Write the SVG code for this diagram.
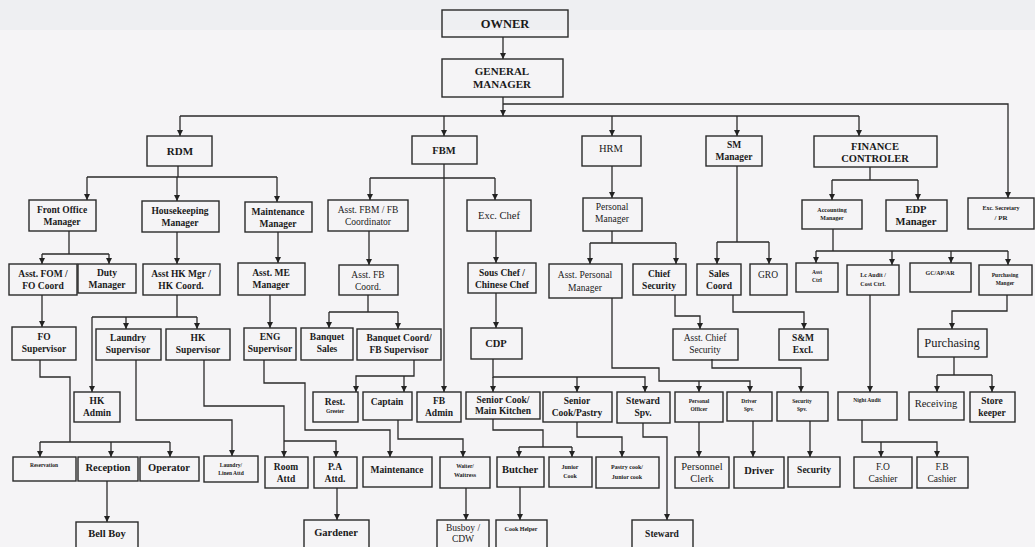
<svg xmlns="http://www.w3.org/2000/svg" width="1035" height="547" viewBox="0 0 1035 547">
<defs>
<marker id="ah" viewBox="0 0 8 8" refX="8" refY="4" markerWidth="6" markerHeight="6" orient="auto" markerUnits="userSpaceOnUse">
<path d="M0,0 L8,4 L0,8 z" fill="#222"/>
</marker>
<style>
.bx{fill:none;stroke:#2a2a2a;stroke-width:1.4}
text{font-family:"Liberation Serif","Times New Roman",serif;fill:#1a1a1a;text-anchor:middle}
.b{font-weight:bold}
.s9{font-size:9.5px}
.s10{font-size:10.5px}
.s11{font-size:11px}
.s12{font-size:12.5px}
.s6{font-size:6px}
.s5{font-size:5.5px}
.s7{font-size:7px}
.ln{fill:none;stroke:#2a2a2a;stroke-width:1.3}
.ar{fill:none;stroke:#2a2a2a;stroke-width:1.3;marker-end:url(#ah)}
</style>
</defs>
<rect width="1035" height="547" fill="#f5f4f6"/>
<rect width="1035" height="30" fill="#eeeff2"/>

<g id="connectors">
<path class="ar" d="M503,37 V59"/>
<path class="ar" d="M503,97 V116"/>
<path class="ln" d="M180,116 H859"/>
<path class="ar" d="M180,116 V136"/>
<path class="ar" d="M444,116 V136"/>
<path class="ar" d="M612,116 V136"/>
<path class="ar" d="M737,116 V136"/>
<path class="ar" d="M859,116 V136"/>
<path class="ar" d="M503,104 H1008 V198"/>
<path class="ln" d="M178,166 V177 M87,177 H277"/>
<path class="ar" d="M87,177 V200"/>
<path class="ar" d="M177,177 V201"/>
<path class="ar" d="M277,177 V202"/>
<path class="ar" d="M444,164 V392"/>
<path class="ln" d="M370,178 H495"/>
<path class="ar" d="M370,178 V200"/>
<path class="ar" d="M495,178 V200"/>
<path class="ar" d="M612,166 V198"/>
<path class="ln" d="M737,166 V242 M717,242 H769"/>
<path class="ar" d="M717,242 V264"/>
<path class="ar" d="M769,242 V264"/>
<path class="ln" d="M870,167 V180 M832,180 H918"/>
<path class="ar" d="M832,180 V200"/>
<path class="ar" d="M918,180 V200"/>
<path class="ln" d="M69,231 V254 M42,254 H109"/>
<path class="ar" d="M42,254 V264"/>
<path class="ar" d="M109,254 V264"/>
<path class="ar" d="M177,232 V264"/>
<path class="ar" d="M278,232 V263"/>
<path class="ar" d="M369,231 V265"/>
<path class="ar" d="M496,231 V263"/>
<path class="ln" d="M612,231 V243 M590,243 H676"/>
<path class="ar" d="M590,243 V264"/>
<path class="ar" d="M676,243 V264"/>
<path class="ln" d="M833,229 V251 M816,251 H1008"/>
<path class="ar" d="M816,251 V263"/>
<path class="ar" d="M892,251 V265"/>
<path class="ar" d="M951,251 V263"/>
<path class="ar" d="M1008,251 V265"/>
<path class="ar" d="M42,295 V327"/>
<path class="ln" d="M177,295 V317 M92,317 H197"/>
<path class="ar" d="M92,317 V392"/>
<path class="ar" d="M126,317 V329"/>
<path class="ar" d="M197,317 V329"/>
<path class="ar" d="M270,295 V328"/>
<path class="ln" d="M368,295 V312 M329,312 H398"/>
<path class="ar" d="M329,312 V328"/>
<path class="ar" d="M398,312 V329"/>
<path class="ar" d="M496,293 V328"/>
<path class="ar" d="M612,298 V368 H659 V381 H750 V392"/>
<path class="ar" d="M699,381 V392"/>
<path class="ar" d="M675,295 V316 H700 V329"/>
<path class="ar" d="M733,295 V312 H804 V329"/>
<path class="ar" d="M870,295 V392"/>
<path class="ar" d="M1007,295 V311 H952 V329"/>
<path class="ln" d="M40,360 V377 H70 V442 M40,442 H170"/>
<path class="ar" d="M40,442 V457"/>
<path class="ar" d="M111,442 V457"/>
<path class="ar" d="M170,442 V457"/>
<path class="ar" d="M136,360 V420 H232 V456"/>
<path class="ar" d="M204,360 V406 H284 V457"/>
<path class="ar" d="M284,441 H336 V457"/>
<path class="ar" d="M264,360 V383 H305 V430 H390 V457"/>
<path class="ar" d="M414,360 V376 H356 V392"/>
<path class="ar" d="M404,376 V392"/>
<path class="ar" d="M493,359 V377 H645 V392"/>
<path class="ar" d="M493,377 V392"/>
<path class="ar" d="M577,377 V392"/>
<path class="ar" d="M712,359 V368 H801 V392"/>
<path class="ln" d="M954,357 V375 M937,375 H992"/>
<path class="ar" d="M937,375 V392"/>
<path class="ar" d="M992,375 V392"/>
<path class="ar" d="M398,420 V439 H463 V457"/>
<path class="ln" d="M493,419 V430 H543 V447 M519,447 H572"/>
<path class="ar" d="M519,447 V457"/>
<path class="ar" d="M572,447 V457"/>
<path class="ar" d="M577,422 V437 H622 V457"/>
<path class="ar" d="M643,423 V437 H667 V520"/>
<path class="ar" d="M699,422 V457"/>
<path class="ar" d="M753,421 V457"/>
<path class="ar" d="M810,421 V457"/>
<path class="ar" d="M862,420 V442 H937 V457"/>
<path class="ar" d="M881,442 V457"/>
<path class="ar" d="M107,481 V522"/>
<path class="ar" d="M337,488 V520"/>
<path class="ar" d="M466,488 V520"/>
<path class="ar" d="M520,487 V520"/>
</g>

<g id="owner"><rect class="bx" x="442" y="10" width="126" height="27"/><text class="b s12" x="505" y="28">OWNER</text></g>
<g id="gm"><rect class="bx" x="442" y="59" width="121" height="38"/><text class="b s11" x="502" y="75">GENERAL</text><text class="b s11" x="502" y="88">MANAGER</text></g>
<g id="rdm"><rect class="bx" x="147" y="136" width="65" height="30"/><text class="b s11" x="180" y="155">RDM</text></g>
<g id="fbm"><rect class="bx" x="412" y="136" width="65" height="28"/><text class="b s10" x="444" y="154">FBM</text></g>
<g id="hrm"><rect class="bx" x="582" y="136" width="59" height="30"/><text class="s10" x="611" y="152">HRM</text></g>
<g id="sm"><rect class="bx" x="706" y="136" width="56" height="30"/><text class="b s9" x="734" y="148">SM</text><text class="b s9" x="734" y="160">Manager</text></g>
<g id="fin"><rect class="bx" x="814" y="136" width="123" height="31"/><text class="b s10" x="875" y="150">FINANCE</text><text class="b s10" x="875" y="162">CONTROLER</text></g>

<g id="fom"><rect class="bx" x="29" y="200" width="67" height="31"/><text class="b s9" x="62" y="213">Front Office</text><text class="b s9" x="62" y="225">Manager</text></g>
<g id="hkm"><rect class="bx" x="142" y="201" width="77" height="31"/><text class="b s9" x="180" y="214">Housekeeping</text><text class="b s9" x="180" y="226">Manager</text></g>
<g id="mm"><rect class="bx" x="245" y="202" width="67" height="30"/><text class="b s9" x="278" y="215">Maintenance</text><text class="b s9" x="278" y="227">Manager</text></g>
<g id="afbm"><rect class="bx" x="328" y="200" width="80" height="31"/><text class="s9" x="368" y="213">Asst. FBM / FB</text><text class="s9" x="368" y="225">Coordinator</text></g>
<g id="exc"><rect class="bx" x="467" y="200" width="64" height="31"/><text class="s10" x="499" y="219">Exc. Chef</text></g>
<g id="pm"><rect class="bx" x="583" y="198" width="59" height="33"/><text class="s9" x="612" y="210">Personal</text><text class="s9" x="612" y="222">Manager</text></g>
<g id="acc"><rect class="bx" x="802" y="200" width="60" height="29"/><text class="b s6" x="832" y="212">Accounting</text><text class="b s6" x="832" y="220">Manager</text></g>
<g id="edp"><rect class="bx" x="886" y="200" width="61" height="31"/><text class="b s10" x="916" y="213">EDP</text><text class="b s10" x="916" y="225">Manager</text></g>
<g id="exs"><rect class="bx" x="968" y="198" width="66" height="31"/><text class="b s6" x="1001" y="210">Exc. Secretary</text><text class="b s7" x="1001" y="220">/ PR</text></g>

<g id="afom"><rect class="bx" x="9" y="264" width="68" height="31"/><text class="b s9" x="43" y="277">Asst. FOM /</text><text class="b s9" x="43" y="289">FO Coord</text></g>
<g id="duty"><rect class="bx" x="78" y="264" width="58" height="29"/><text class="b s9" x="107" y="276">Duty</text><text class="b s9" x="107" y="288">Manager</text></g>
<g id="ahk"><rect class="bx" x="143" y="264" width="77" height="31"/><text class="b s9" x="181" y="277">Asst HK Mgr /</text><text class="b s9" x="181" y="289">HK Coord.</text></g>
<g id="ame"><rect class="bx" x="238" y="263" width="67" height="32"/><text class="b s9" x="271" y="276">Asst. ME</text><text class="b s9" x="271" y="288">Manager</text></g>
<g id="afb"><rect class="bx" x="339" y="265" width="59" height="30"/><text class="s9" x="368" y="278">Asst. FB</text><text class="s9" x="368" y="290">Coord.</text></g>
<g id="sous"><rect class="bx" x="468" y="263" width="68" height="30"/><text class="b s9" x="502" y="276">Sous Chef /</text><text class="b s9" x="502" y="288">Chinese Chef</text></g>
<g id="apm"><rect class="bx" x="549" y="264" width="73" height="34"/><text class="s9" x="585" y="278">Asst. Personal</text><text class="s9" x="585" y="291">Manager</text></g>
<g id="cs"><rect class="bx" x="633" y="264" width="53" height="31"/><text class="b s9" x="659" y="277">Chief</text><text class="b s9" x="659" y="289">Security</text></g>
<g id="sc"><rect class="bx" x="697" y="264" width="44" height="31"/><text class="b s9" x="719" y="277">Sales</text><text class="b s9" x="719" y="289">Coord</text></g>
<g id="gro"><rect class="bx" x="750" y="264" width="37" height="31"/><text class="s9" x="768" y="278">GRO</text></g>
<g id="actrl"><rect class="bx" x="796" y="263" width="42" height="29"/><text class="b s5" x="817" y="274">Asst</text><text class="b s5" x="817" y="282">Ctrl</text></g>
<g id="lca"><rect class="bx" x="847" y="265" width="52" height="30"/><text class="b s6" x="873" y="277">Lc Audit /</text><text class="b s6" x="873" y="286">Cost Ctrl.</text></g>
<g id="gc"><rect class="bx" x="910" y="263" width="61" height="29"/><text class="b s6" x="940" y="275">GC/AP/AR</text></g>
<g id="pmg"><rect class="bx" x="979" y="265" width="53" height="30"/><text class="b s5" x="1005" y="277">Purchasing</text><text class="b s5" x="1005" y="285">Manger</text></g>

<g id="fos"><rect class="bx" x="12" y="327" width="64" height="33"/><text class="b s9" x="44" y="340">FO</text><text class="b s9" x="44" y="352">Supervisor</text></g>
<g id="ls"><rect class="bx" x="96" y="329" width="65" height="31"/><text class="b s9" x="128" y="341">Laundry</text><text class="b s9" x="128" y="353">Supervisor</text></g>
<g id="hks"><rect class="bx" x="166" y="329" width="64" height="31"/><text class="b s9" x="198" y="341">HK</text><text class="b s9" x="198" y="353">Supervisor</text></g>
<g id="eng"><rect class="bx" x="244" y="328" width="52" height="32"/><text class="b s9" x="270" y="340">ENG</text><text class="b s9" x="270" y="352">Supervisor</text></g>
<g id="bs"><rect class="bx" x="301" y="328" width="52" height="32"/><text class="b s9" x="327" y="340">Banquet</text><text class="b s9" x="327" y="352">Sales</text></g>
<g id="bc"><rect class="bx" x="357" y="329" width="84" height="31"/><text class="b s9" x="399" y="341">Banquet Coord/</text><text class="b s9" x="399" y="353">FB Supervisor</text></g>
<g id="cdp"><rect class="bx" x="471" y="328" width="51" height="31"/><text class="b s10" x="496" y="347">CDP</text></g>
<g id="acs"><rect class="bx" x="673" y="329" width="65" height="31"/><text class="s9" x="705" y="341">Asst. Chief</text><text class="s9" x="705" y="353">Security</text></g>
<g id="sme"><rect class="bx" x="779" y="329" width="49" height="31"/><text class="b s9" x="803" y="341">S&amp;M</text><text class="b s9" x="803" y="353">Excl.</text></g>
<g id="purch"><rect class="bx" x="918" y="329" width="69" height="28"/><text class="s12" x="952" y="347">Purchasing</text></g>

<g id="hka"><rect class="bx" x="74" y="392" width="46" height="30"/><text class="b s9" x="97" y="404">HK</text><text class="b s9" x="97" y="416">Admin</text></g>
<g id="rg"><rect class="bx" x="313" y="392" width="45" height="30"/><text class="b s9" x="335" y="405">Rest.</text><text class="b s5" x="335" y="413">Greeter</text></g>
<g id="cap"><rect class="bx" x="363" y="392" width="49" height="28"/><text class="b s9" x="387" y="405">Captain</text></g>
<g id="fba"><rect class="bx" x="417" y="392" width="44" height="30"/><text class="b s9" x="439" y="404">FB</text><text class="b s9" x="439" y="416">Admin</text></g>
<g id="scm"><rect class="bx" x="466" y="392" width="74" height="27"/><text class="b s9" x="503" y="403">Senior Cook/</text><text class="b s9" x="503" y="414">Main Kitchen</text></g>
<g id="scp"><rect class="bx" x="543" y="392" width="69" height="30"/><text class="b s9" x="577" y="404">Senior</text><text class="b s9" x="577" y="416">Cook/Pastry</text></g>
<g id="ss"><rect class="bx" x="617" y="392" width="53" height="31"/><text class="b s9" x="643" y="404">Steward</text><text class="b s9" x="643" y="416">Spv.</text></g>
<g id="po"><rect class="bx" x="675" y="392" width="48" height="30"/><text class="b s5" x="699" y="403">Personal</text><text class="b s5" x="699" y="411">Officer</text></g>
<g id="ds"><rect class="bx" x="727" y="392" width="45" height="29"/><text class="b s5" x="749" y="403">Driver</text><text class="b s5" x="749" y="411">Spv.</text></g>
<g id="secs"><rect class="bx" x="777" y="392" width="51" height="29"/><text class="b s5" x="802" y="403">Security</text><text class="b s5" x="802" y="411">Spv.</text></g>
<g id="na"><rect class="bx" x="838" y="392" width="59" height="28"/><text class="b s5" x="867" y="402">Night Audit</text></g>
<g id="rec"><rect class="bx" x="909" y="392" width="55" height="28"/><text class="s10" x="936" y="407">Receiving</text></g>
<g id="sk"><rect class="bx" x="970" y="392" width="45" height="30"/><text class="b s9" x="992" y="404">Store</text><text class="b s9" x="992" y="416">keeper</text></g>

<g id="res"><rect class="bx" x="13" y="457" width="63" height="24"/><text class="b s5" x="44" y="467">Reservation</text></g>
<g id="recp"><rect class="bx" x="78" y="457" width="60" height="24"/><text class="b s10" x="108" y="471">Reception</text></g>
<g id="op"><rect class="bx" x="140" y="457" width="59" height="24"/><text class="b s10" x="169" y="471">Operator</text></g>
<g id="lla"><rect class="bx" x="204" y="456" width="54" height="26"/><text class="b s5" x="231" y="467">Laundry/</text><text class="b s5" x="231" y="475">Linen Attd</text></g>
<g id="ra"><rect class="bx" x="265" y="457" width="43" height="31"/><text class="b s9" x="286" y="470">Room</text><text class="b s9" x="286" y="482">Attd</text></g>
<g id="pa"><rect class="bx" x="314" y="457" width="43" height="31"/><text class="b s9" x="335" y="470">P.A</text><text class="b s9" x="335" y="482">Attd.</text></g>
<g id="mt"><rect class="bx" x="363" y="457" width="69" height="30"/><text class="b s9" x="397" y="473">Maintenance</text></g>
<g id="ww"><rect class="bx" x="440" y="457" width="50" height="31"/><text class="b s5" x="465" y="468">Waiter/</text><text class="b s6" x="465" y="477">Waitress</text></g>
<g id="bu"><rect class="bx" x="497" y="457" width="47" height="30"/><text class="b s10" x="520" y="473">Butcher</text></g>
<g id="jc"><rect class="bx" x="549" y="457" width="43" height="30"/><text class="b s6" x="570" y="469">Junior</text><text class="b s6" x="570" y="478">Cook</text></g>
<g id="pc"><rect class="bx" x="596" y="457" width="63" height="31"/><text class="b s6" x="627" y="469">Pastry cook/</text><text class="b s6" x="627" y="479">Junior cook</text></g>
<g id="pcl"><rect class="bx" x="675" y="457" width="54" height="31"/><text class="s10" x="702" y="470">Personnel</text><text class="s10" x="702" y="482">Clerk</text></g>
<g id="dr"><rect class="bx" x="734" y="457" width="50" height="31"/><text class="b s10" x="759" y="474">Driver</text></g>
<g id="sec"><rect class="bx" x="788" y="457" width="52" height="30"/><text class="b s9" x="814" y="473">Security</text></g>
<g id="foc"><rect class="bx" x="854" y="457" width="58" height="31"/><text class="s9" x="883" y="470">F.O</text><text class="s9" x="883" y="482">Cashier</text></g>
<g id="fbc"><rect class="bx" x="917" y="457" width="51" height="31"/><text class="s9" x="942" y="470">F.B</text><text class="s9" x="942" y="482">Cashier</text></g>

<g id="bb"><rect class="bx" x="76" y="522" width="62" height="30"/><text class="b s10" x="107" y="537">Bell Boy</text></g>
<g id="gar"><rect class="bx" x="304" y="520" width="65" height="30"/><text class="b s10" x="336" y="536">Gardener</text></g>
<g id="bus"><rect class="bx" x="437" y="520" width="52" height="30"/><text class="s9" x="463" y="531">Busboy /</text><text class="s9" x="463" y="542">CDW</text></g>
<g id="ch"><rect class="bx" x="496" y="520" width="51" height="30"/><text class="b s6" x="521" y="531">Cook Helper</text></g>
<g id="stw"><rect class="bx" x="632" y="520" width="61" height="30"/><text class="b s9" x="662" y="537">Steward</text></g>
</svg>
